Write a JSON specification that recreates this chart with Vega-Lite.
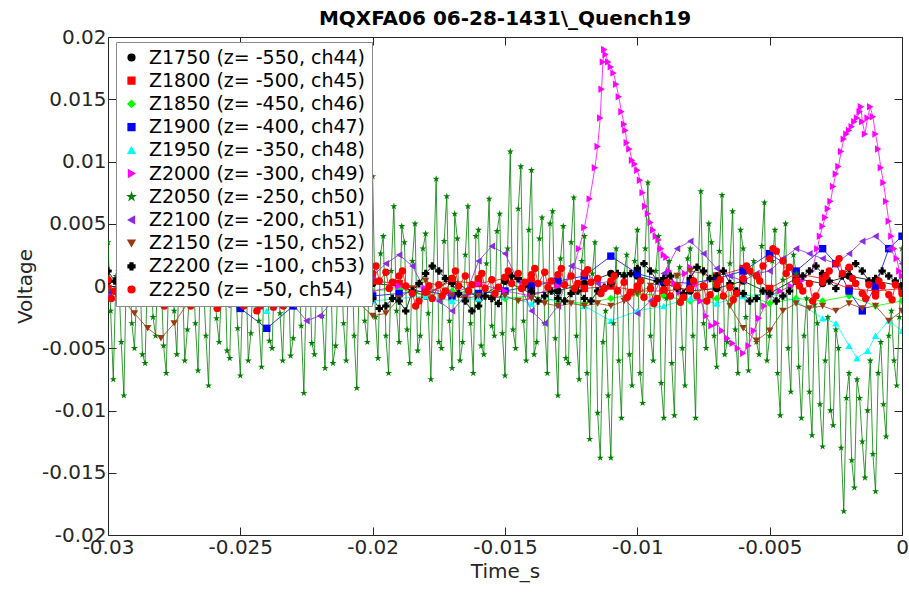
{
"$schema":"https://vega.github.io/schema/vega-lite/v6.json",
"width":794,"height":498,
"autosize":{"type":"none"},
"padding":{"left":108,"top":37,"right":7,"bottom":62},
"background":"white",
"title":{"text":"MQXFA06 06-28-1431\\_Quench19","font":"DejaVu Sans","fontSize":20,"fontWeight":"bold","color":"#000000","anchor":"middle","offset":-2},
"config":{"view":{"stroke":null},"axis":{"labelFont":"DejaVu Sans","labelFontSize":20,"titleFont":"DejaVu Sans","titleFontSize":20,"titleFontWeight":"normal","labelColor":"#262626","titleColor":"#262626","domainColor":"#262626","tickColor":"#262626","grid":false}},
"data":{"values":[
{"k":"a","t":-0.030,"v":0.0004},{"k":"a","t":-0.029,"v":-0.0002},{"k":"a","t":-0.028,"v":-0.0006},{"k":"a","t":-0.027,"v":-0.0004},{"k":"a","t":-0.026,"v":-0.0008},{"k":"a","t":-0.025,"v":-0.0005},{"k":"a","t":-0.024,"v":-0.0006},{"k":"a","t":-0.023,"v":-0.0010},{"k":"a","t":-0.022,"v":-0.0004},{"k":"a","t":-0.021,"v":-0.0002},{"k":"a","t":-0.020,"v":0.0002},{"k":"a","t":-0.019,"v":0.0000},{"k":"a","t":-0.018,"v":-0.0008},{"k":"a","t":-0.017,"v":0.0006},{"k":"a","t":-0.016,"v":-0.0010},{"k":"a","t":-0.015,"v":0.0004},{"k":"a","t":-0.014,"v":-0.0006},{"k":"a","t":-0.013,"v":-0.0004},{"k":"a","t":-0.012,"v":0.0002},{"k":"a","t":-0.011,"v":0.0010},{"k":"a","t":-0.010,"v":0.0008},{"k":"a","t":-0.009,"v":0.0002},{"k":"a","t":-0.008,"v":-0.0004},{"k":"a","t":-0.007,"v":-0.0002},{"k":"a","t":-0.006,"v":0.0004},{"k":"a","t":-0.005,"v":-0.0006},{"k":"a","t":-0.004,"v":0.0006},{"k":"a","t":-0.003,"v":0.0002},{"k":"a","t":-0.002,"v":0.0008},{"k":"a","t":-0.001,"v":0.0004},{"k":"a","t":0.0,"v":0.0000},
{"k":"b","t":-0.030,"v":-0.0002},{"k":"b","t":-0.029,"v":-0.0006},{"k":"b","t":-0.028,"v":-0.0008},{"k":"b","t":-0.027,"v":-0.0010},{"k":"b","t":-0.026,"v":-0.0006},{"k":"b","t":-0.025,"v":-0.0008},{"k":"b","t":-0.024,"v":-0.0012},{"k":"b","t":-0.023,"v":-0.0006},{"k":"b","t":-0.022,"v":-0.0004},{"k":"b","t":-0.021,"v":-0.0002},{"k":"b","t":-0.020,"v":0.0004},{"k":"b","t":-0.019,"v":0.0002},{"k":"b","t":-0.018,"v":-0.0006},{"k":"b","t":-0.017,"v":0.0004},{"k":"b","t":-0.016,"v":0.0002},{"k":"b","t":-0.015,"v":0.0006},{"k":"b","t":-0.014,"v":0.0004},{"k":"b","t":-0.013,"v":0.0002},{"k":"b","t":-0.012,"v":-0.0002},{"k":"b","t":-0.011,"v":0.0000},{"k":"b","t":-0.010,"v":-0.0004},{"k":"b","t":-0.009,"v":-0.0004},{"k":"b","t":-0.008,"v":-0.0002},{"k":"b","t":-0.007,"v":0.0008},{"k":"b","t":-0.006,"v":0.0014},{"k":"b","t":-0.005,"v":-0.0002},{"k":"b","t":-0.004,"v":0.0010},{"k":"b","t":-0.003,"v":0.0006},{"k":"b","t":-0.002,"v":-0.0002},{"k":"b","t":-0.001,"v":-0.0004},{"k":"b","t":0.0,"v":-0.0002},
{"k":"c","t":-0.030,"v":-0.0004},{"k":"c","t":-0.029,"v":-0.0010},{"k":"c","t":-0.028,"v":-0.0008},{"k":"c","t":-0.027,"v":-0.0012},{"k":"c","t":-0.026,"v":-0.0010},{"k":"c","t":-0.025,"v":-0.0008},{"k":"c","t":-0.024,"v":-0.0014},{"k":"c","t":-0.023,"v":-0.0010},{"k":"c","t":-0.022,"v":-0.0006},{"k":"c","t":-0.021,"v":-0.0008},{"k":"c","t":-0.020,"v":-0.0004},{"k":"c","t":-0.019,"v":-0.0002},{"k":"c","t":-0.018,"v":-0.0008},{"k":"c","t":-0.017,"v":-0.0004},{"k":"c","t":-0.016,"v":-0.0006},{"k":"c","t":-0.015,"v":-0.0010},{"k":"c","t":-0.014,"v":-0.0008},{"k":"c","t":-0.013,"v":-0.0012},{"k":"c","t":-0.012,"v":-0.0014},{"k":"c","t":-0.011,"v":-0.0010},{"k":"c","t":-0.010,"v":-0.0006},{"k":"c","t":-0.009,"v":-0.0008},{"k":"c","t":-0.008,"v":-0.0012},{"k":"c","t":-0.007,"v":-0.0010},{"k":"c","t":-0.006,"v":-0.0006},{"k":"c","t":-0.005,"v":-0.0014},{"k":"c","t":-0.004,"v":-0.0010},{"k":"c","t":-0.003,"v":-0.0012},{"k":"c","t":-0.002,"v":-0.0008},{"k":"c","t":-0.001,"v":-0.0016},{"k":"c","t":0.0,"v":-0.0012},
{"k":"d","t":-0.030,"v":-0.0006},{"k":"d","t":-0.029,"v":-0.0008},{"k":"d","t":-0.028,"v":-0.0010},{"k":"d","t":-0.027,"v":-0.0012},{"k":"d","t":-0.026,"v":-0.0010},{"k":"d","t":-0.025,"v":-0.0018},{"k":"d","t":-0.024,"v":-0.0034},{"k":"d","t":-0.023,"v":-0.0016},{"k":"d","t":-0.022,"v":-0.0010},{"k":"d","t":-0.021,"v":-0.0006},{"k":"d","t":-0.020,"v":-0.0008},{"k":"d","t":-0.019,"v":-0.0006},{"k":"d","t":-0.018,"v":-0.0004},{"k":"d","t":-0.017,"v":-0.0008},{"k":"d","t":-0.016,"v":-0.0006},{"k":"d","t":-0.015,"v":-0.0004},{"k":"d","t":-0.014,"v":0.0000},{"k":"d","t":-0.013,"v":0.0004},{"k":"d","t":-0.012,"v":0.0008},{"k":"d","t":-0.011,"v":0.0024},{"k":"d","t":-0.010,"v":0.0010},{"k":"d","t":-0.009,"v":0.0004},{"k":"d","t":-0.008,"v":0.0002},{"k":"d","t":-0.007,"v":0.0006},{"k":"d","t":-0.006,"v":0.0012},{"k":"d","t":-0.005,"v":0.0026},{"k":"d","t":-0.004,"v":0.0012},{"k":"d","t":-0.003,"v":0.0030},{"k":"d","t":-0.0025,"v":0.0018},{"k":"d","t":-0.002,"v":-0.0004},{"k":"d","t":-0.0015,"v":-0.0020},{"k":"d","t":-0.001,"v":0.0000},{"k":"d","t":-0.0005,"v":0.0030},{"k":"d","t":0.0,"v":0.0040},
{"k":"e","t":-0.030,"v":-0.0008},{"k":"e","t":-0.029,"v":-0.0010},{"k":"e","t":-0.028,"v":-0.0006},{"k":"e","t":-0.027,"v":-0.0010},{"k":"e","t":-0.026,"v":-0.0012},{"k":"e","t":-0.025,"v":-0.0014},{"k":"e","t":-0.024,"v":-0.0020},{"k":"e","t":-0.023,"v":-0.0012},{"k":"e","t":-0.022,"v":-0.0008},{"k":"e","t":-0.021,"v":-0.0010},{"k":"e","t":-0.020,"v":-0.0012},{"k":"e","t":-0.019,"v":-0.0010},{"k":"e","t":-0.018,"v":-0.0008},{"k":"e","t":-0.017,"v":-0.0012},{"k":"e","t":-0.016,"v":-0.0010},{"k":"e","t":-0.015,"v":-0.0008},{"k":"e","t":-0.014,"v":-0.0014},{"k":"e","t":-0.013,"v":-0.0010},{"k":"e","t":-0.012,"v":-0.0016},{"k":"e","t":-0.011,"v":-0.0028},{"k":"e","t":-0.010,"v":-0.0020},{"k":"e","t":-0.009,"v":-0.0016},{"k":"e","t":-0.008,"v":-0.0010},{"k":"e","t":-0.007,"v":-0.0014},{"k":"e","t":-0.006,"v":-0.0008},{"k":"e","t":-0.005,"v":-0.0006},{"k":"e","t":-0.004,"v":-0.0012},{"k":"e","t":-0.003,"v":-0.0026},{"k":"e","t":-0.0025,"v":-0.0030},{"k":"e","t":-0.002,"v":-0.0048},{"k":"e","t":-0.0017,"v":-0.0058},{"k":"e","t":-0.0013,"v":-0.0052},{"k":"e","t":-0.001,"v":-0.0040},{"k":"e","t":-0.0005,"v":-0.0028},{"k":"e","t":0.0,"v":-0.0036},
{"k":"f","t":-0.030,"v":-0.0004},{"k":"f","t":-0.029,"v":0.0002},{"k":"f","t":-0.028,"v":-0.0006},{"k":"f","t":-0.027,"v":0.0000},{"k":"f","t":-0.026,"v":-0.0008},{"k":"f","t":-0.025,"v":-0.0004},{"k":"f","t":-0.024,"v":0.0002},{"k":"f","t":-0.023,"v":-0.0006},{"k":"f","t":-0.022,"v":-0.0002},{"k":"f","t":-0.021,"v":0.0002},{"k":"f","t":-0.020,"v":-0.0004},{"k":"f","t":-0.019,"v":0.0000},{"k":"f","t":-0.018,"v":-0.0002},{"k":"f","t":-0.017,"v":-0.0006},{"k":"f","t":-0.016,"v":0.0002},{"k":"f","t":-0.015,"v":-0.0004},{"k":"f","t":-0.014,"v":-0.0008},{"k":"f","t":-0.013,"v":0.0000},{"k":"f","t":-0.0125,"v":0.0008},{"k":"f","t":-0.0122,"v":0.0030},{"k":"f","t":-0.0120,"v":0.0047},{"k":"f","t":-0.0118,"v":0.0070},{"k":"f","t":-0.0116,"v":0.0095},{"k":"f","t":-0.0115,"v":0.0112},{"k":"f","t":-0.0114,"v":0.0135},{"k":"f","t":-0.01135,"v":0.0158},{"k":"f","t":-0.0113,"v":0.0180},{"k":"f","t":-0.01125,"v":0.0190},{"k":"f","t":-0.0112,"v":0.0186},{"k":"f","t":-0.0111,"v":0.0180},{"k":"f","t":-0.0110,"v":0.0176},{"k":"f","t":-0.0109,"v":0.0171},{"k":"f","t":-0.0108,"v":0.0162},{"k":"f","t":-0.0107,"v":0.0152},{"k":"f","t":-0.0106,"v":0.0140},{"k":"f","t":-0.0105,"v":0.0130},{"k":"f","t":-0.01045,"v":0.0125},{"k":"f","t":-0.0104,"v":0.0115},{"k":"f","t":-0.0103,"v":0.0110},{"k":"f","t":-0.0102,"v":0.0101},{"k":"f","t":-0.0101,"v":0.0098},{"k":"f","t":-0.0100,"v":0.0093},{"k":"f","t":-0.0099,"v":0.0085},{"k":"f","t":-0.0098,"v":0.0075},{"k":"f","t":-0.0097,"v":0.0064},{"k":"f","t":-0.0096,"v":0.0058},{"k":"f","t":-0.0095,"v":0.0051},{"k":"f","t":-0.0094,"v":0.0045},{"k":"f","t":-0.0093,"v":0.0040},{"k":"f","t":-0.0092,"v":0.0037},{"k":"f","t":-0.0091,"v":0.0030},{"k":"f","t":-0.0090,"v":0.0025},{"k":"f","t":-0.0089,"v":0.0023},{"k":"f","t":-0.0088,"v":0.0012},{"k":"f","t":-0.0086,"v":0.0002},{"k":"f","t":-0.0084,"v":-0.0005},{"k":"f","t":-0.0082,"v":0.0010},{"k":"f","t":-0.0080,"v":0.0015},{"k":"f","t":-0.0078,"v":0.0002},{"k":"f","t":-0.0076,"v":-0.0012},{"k":"f","t":-0.0074,"v":-0.0024},{"k":"f","t":-0.0072,"v":-0.0032},{"k":"f","t":-0.0070,"v":-0.0030},{"k":"f","t":-0.0068,"v":-0.0036},{"k":"f","t":-0.0066,"v":-0.0042},{"k":"f","t":-0.0064,"v":-0.0046},{"k":"f","t":-0.0062,"v":-0.0050},{"k":"f","t":-0.0060,"v":-0.0054},{"k":"f","t":-0.0058,"v":-0.0048},{"k":"f","t":-0.0056,"v":-0.0036},{"k":"f","t":-0.0054,"v":-0.0026},{"k":"f","t":-0.0052,"v":-0.0016},{"k":"f","t":-0.0050,"v":-0.0008},{"k":"f","t":-0.0046,"v":-0.0004},{"k":"f","t":-0.0042,"v":0.0000},{"k":"f","t":-0.0038,"v":0.0004},{"k":"f","t":-0.0034,"v":0.0012},{"k":"f","t":-0.0032,"v":0.0030},{"k":"f","t":-0.0031,"v":0.0040},{"k":"f","t":-0.0030,"v":0.0048},{"k":"f","t":-0.0029,"v":0.0055},{"k":"f","t":-0.0028,"v":0.0062},{"k":"f","t":-0.0027,"v":0.0068},{"k":"f","t":-0.0026,"v":0.0080},{"k":"f","t":-0.0025,"v":0.0090},{"k":"f","t":-0.0024,"v":0.0096},{"k":"f","t":-0.0023,"v":0.0108},{"k":"f","t":-0.0022,"v":0.0118},{"k":"f","t":-0.0021,"v":0.0122},{"k":"f","t":-0.0020,"v":0.0125},{"k":"f","t":-0.0019,"v":0.0128},{"k":"f","t":-0.0018,"v":0.0132},{"k":"f","t":-0.0017,"v":0.0135},{"k":"f","t":-0.0016,"v":0.0140},{"k":"f","t":-0.00155,"v":0.0144},{"k":"f","t":-0.0015,"v":0.0132},{"k":"f","t":-0.0014,"v":0.0122},{"k":"f","t":-0.0013,"v":0.0135},{"k":"f","t":-0.0012,"v":0.0144},{"k":"f","t":-0.0011,"v":0.0136},{"k":"f","t":-0.0010,"v":0.0122},{"k":"f","t":-0.0009,"v":0.0110},{"k":"f","t":-0.0008,"v":0.0095},{"k":"f","t":-0.0007,"v":0.0083},{"k":"f","t":-0.0006,"v":0.0068},{"k":"f","t":-0.0005,"v":0.0052},{"k":"f","t":-0.0004,"v":0.0040},{"k":"f","t":-0.0003,"v":0.0030},{"k":"f","t":-0.0002,"v":0.0022},{"k":"f","t":-0.0001,"v":0.0012},{"k":"f","t":0.0,"v":0.0008},
{"k":"g","t":-0.0300,"v":0.0035},{"k":"g","t":-0.0298,"v":-0.0075},{"k":"g","t":-0.0296,"v":0.0012},{"k":"g","t":-0.0294,"v":-0.0088},{"k":"g","t":-0.0292,"v":0.0025},{"k":"g","t":-0.0290,"v":-0.0050},{"k":"g","t":-0.0288,"v":0.0018},{"k":"g","t":-0.0286,"v":-0.0062},{"k":"g","t":-0.0284,"v":0.0030},{"k":"g","t":-0.0282,"v":-0.0040},{"k":"g","t":-0.0280,"v":0.0008},{"k":"g","t":-0.0278,"v":-0.0070},{"k":"g","t":-0.0276,"v":0.0022},{"k":"g","t":-0.0274,"v":-0.0055},{"k":"g","t":-0.0272,"v":0.0015},{"k":"g","t":-0.0270,"v":-0.0035},{"k":"g","t":-0.0268,"v":0.0028},{"k":"g","t":-0.0266,"v":-0.0068},{"k":"g","t":-0.0264,"v":0.0005},{"k":"g","t":-0.0262,"v":-0.0080},{"k":"g","t":-0.0260,"v":0.0020},{"k":"g","t":-0.0258,"v":-0.0045},{"k":"g","t":-0.0256,"v":0.0032},{"k":"g","t":-0.0254,"v":-0.0058},{"k":"g","t":-0.0252,"v":0.0010},{"k":"g","t":-0.0250,"v":-0.0072},{"k":"g","t":-0.0248,"v":0.0026},{"k":"g","t":-0.0246,"v":-0.0038},{"k":"g","t":-0.0244,"v":0.0014},{"k":"g","t":-0.0242,"v":-0.0065},{"k":"g","t":-0.0240,"v":0.0030},{"k":"g","t":-0.0238,"v":-0.0050},{"k":"g","t":-0.0236,"v":0.0008},{"k":"g","t":-0.0234,"v":-0.0060},{"k":"g","t":-0.0232,"v":0.0024},{"k":"g","t":-0.0230,"v":-0.0042},{"k":"g","t":-0.0228,"v":0.0016},{"k":"g","t":-0.0226,"v":-0.0086},{"k":"g","t":-0.0224,"v":0.0028},{"k":"g","t":-0.0222,"v":-0.0055},{"k":"g","t":-0.0220,"v":0.0012},{"k":"g","t":-0.0218,"v":-0.0066},{"k":"g","t":-0.0216,"v":0.0030},{"k":"g","t":-0.0214,"v":-0.0048},{"k":"g","t":-0.0212,"v":0.0020},{"k":"g","t":-0.0210,"v":-0.0060},{"k":"g","t":-0.0208,"v":0.0035},{"k":"g","t":-0.0206,"v":-0.0082},{"k":"g","t":-0.0204,"v":0.0025},{"k":"g","t":-0.0202,"v":-0.0045},
{"k":"g","t":-0.0200,"v":0.0088},{"k":"g","t":-0.0198,"v":-0.0058},{"k":"g","t":-0.0196,"v":0.0040},{"k":"g","t":-0.0194,"v":-0.0070},{"k":"g","t":-0.0192,"v":0.0064},{"k":"g","t":-0.0190,"v":-0.0045},{"k":"g","t":-0.0188,"v":0.0035},{"k":"g","t":-0.0186,"v":-0.0062},{"k":"g","t":-0.0184,"v":0.0050},{"k":"g","t":-0.0182,"v":-0.0040},{"k":"g","t":-0.0180,"v":0.0042},{"k":"g","t":-0.0178,"v":-0.0075},{"k":"g","t":-0.0176,"v":0.0086},{"k":"g","t":-0.0174,"v":-0.0050},{"k":"g","t":-0.0172,"v":0.0072},{"k":"g","t":-0.0170,"v":-0.0066},{"k":"g","t":-0.0168,"v":0.0038},{"k":"g","t":-0.0166,"v":-0.0045},{"k":"g","t":-0.0164,"v":0.0064},{"k":"g","t":-0.0162,"v":-0.0070},{"k":"g","t":-0.0160,"v":0.0045},{"k":"g","t":-0.0158,"v":-0.0055},{"k":"g","t":-0.0156,"v":0.0070},{"k":"g","t":-0.0154,"v":-0.0040},{"k":"g","t":-0.0152,"v":0.0058},
{"k":"g","t":-0.0150,"v":-0.0072},{"k":"g","t":-0.0148,"v":0.0108},{"k":"g","t":-0.0146,"v":-0.0050},{"k":"g","t":-0.0144,"v":0.0096},{"k":"g","t":-0.0142,"v":-0.0060},{"k":"g","t":-0.0140,"v":0.0093},{"k":"g","t":-0.0138,"v":-0.0045},{"k":"g","t":-0.0136,"v":0.0055},{"k":"g","t":-0.0134,"v":-0.0070},{"k":"g","t":-0.0132,"v":0.0060},{"k":"g","t":-0.0130,"v":-0.0088},{"k":"g","t":-0.0128,"v":0.0048},{"k":"g","t":-0.0126,"v":-0.0062},{"k":"g","t":-0.0124,"v":0.0071},{"k":"g","t":-0.0122,"v":-0.0075},{"k":"g","t":-0.0120,"v":0.0040},{"k":"g","t":-0.0118,"v":-0.0123},{"k":"g","t":-0.0116,"v":0.0035},{"k":"g","t":-0.0114,"v":-0.0138},{"k":"g","t":-0.0112,"v":-0.0020},{"k":"g","t":-0.0110,"v":-0.0138},{"k":"g","t":-0.0108,"v":0.0030},
{"k":"g","t":-0.0106,"v":-0.0106},{"k":"g","t":-0.0104,"v":0.0025},{"k":"g","t":-0.0102,"v":-0.0080},{"k":"g","t":-0.0100,"v":0.0045},{"k":"g","t":-0.0098,"v":-0.0094},{"k":"g","t":-0.0096,"v":0.0083},{"k":"g","t":-0.0094,"v":-0.0060},{"k":"g","t":-0.0092,"v":0.0040},{"k":"g","t":-0.0090,"v":-0.0106},{"k":"g","t":-0.0088,"v":0.0020},{"k":"g","t":-0.0086,"v":-0.0104},{"k":"g","t":-0.0084,"v":0.0015},{"k":"g","t":-0.0082,"v":-0.0080},{"k":"g","t":-0.0080,"v":0.0030},{"k":"g","t":-0.0078,"v":-0.0106},
{"k":"g","t":-0.0076,"v":0.0076},{"k":"g","t":-0.0074,"v":-0.0050},{"k":"g","t":-0.0072,"v":0.0035},{"k":"g","t":-0.0070,"v":-0.0065},{"k":"g","t":-0.0068,"v":0.0073},{"k":"g","t":-0.0066,"v":-0.0045},{"k":"g","t":-0.0064,"v":0.0060},{"k":"g","t":-0.0062,"v":-0.0070},{"k":"g","t":-0.0060,"v":0.0030},{"k":"g","t":-0.0058,"v":-0.0068},{"k":"g","t":-0.0056,"v":0.0020},{"k":"g","t":-0.0054,"v":-0.0055},{"k":"g","t":-0.0052,"v":0.0067},{"k":"g","t":-0.0050,"v":-0.0040},{"k":"g","t":-0.0048,"v":0.0045},{"k":"g","t":-0.0046,"v":-0.0104},{"k":"g","t":-0.0044,"v":0.0050},{"k":"g","t":-0.0042,"v":-0.0085},{"k":"g","t":-0.0040,"v":0.0010},
{"k":"g","t":-0.0038,"v":-0.0106},{"k":"g","t":-0.0036,"v":-0.0010},{"k":"g","t":-0.0034,"v":-0.0120},{"k":"g","t":-0.0032,"v":-0.0030},{"k":"g","t":-0.0030,"v":-0.0129},{"k":"g","t":-0.0028,"v":-0.0025},{"k":"g","t":-0.0026,"v":-0.0112},{"k":"g","t":-0.0024,"v":-0.0050},{"k":"g","t":-0.0022,"v":-0.0181},{"k":"g","t":-0.0020,"v":-0.0070},{"k":"g","t":-0.0018,"v":-0.0162},{"k":"g","t":-0.0016,"v":-0.0090},{"k":"g","t":-0.0014,"v":-0.0154},{"k":"g","t":-0.0012,"v":-0.0060},{"k":"g","t":-0.0010,"v":-0.0165},{"k":"g","t":-0.0008,"v":-0.0045},{"k":"g","t":-0.0006,"v":-0.0121},{"k":"g","t":-0.0004,"v":-0.0020},{"k":"g","t":-0.0002,"v":-0.0080},{"k":"g","t":0.0,"v":0.0030},
{"k":"g","t":-0.0299,"v":-0.0020},{"k":"g","t":-0.0297,"v":0.0008},{"k":"g","t":-0.0295,"v":-0.0045},{"k":"g","t":-0.0293,"v":0.0020},{"k":"g","t":-0.0291,"v":-0.0030},{"k":"g","t":-0.0289,"v":0.0005},{"k":"g","t":-0.0287,"v":-0.0055},{"k":"g","t":-0.0285,"v":0.0015},{"k":"g","t":-0.0283,"v":-0.0025},{"k":"g","t":-0.0281,"v":0.0028},{"k":"g","t":-0.0279,"v":-0.0048},{"k":"g","t":-0.0277,"v":0.0010},{"k":"g","t":-0.0275,"v":-0.0020},{"k":"g","t":-0.0273,"v":0.0024},{"k":"g","t":-0.0271,"v":-0.0060},{"k":"g","t":-0.0269,"v":0.0006},{"k":"g","t":-0.0267,"v":-0.0030},{"k":"g","t":-0.0265,"v":0.0018},{"k":"g","t":-0.0263,"v":-0.0040},{"k":"g","t":-0.0261,"v":0.0012},{"k":"g","t":-0.0259,"v":-0.0026},{"k":"g","t":-0.0257,"v":0.0002},{"k":"g","t":-0.0255,"v":-0.0052},{"k":"g","t":-0.0253,"v":0.0020},{"k":"g","t":-0.0251,"v":-0.0034},{"k":"g","t":-0.0249,"v":0.0008},{"k":"g","t":-0.0247,"v":-0.0060},{"k":"g","t":-0.0245,"v":0.0022},{"k":"g","t":-0.0243,"v":-0.0028},{"k":"g","t":-0.0241,"v":0.0004},{"k":"g","t":-0.0239,"v":-0.0044},{"k":"g","t":-0.0237,"v":0.0018},{"k":"g","t":-0.0235,"v":-0.0022},{"k":"g","t":-0.0233,"v":0.0010},{"k":"g","t":-0.0231,"v":-0.0056},{"k":"g","t":-0.0229,"v":0.0026},{"k":"g","t":-0.0227,"v":-0.0032},{"k":"g","t":-0.0225,"v":0.0006},{"k":"g","t":-0.0223,"v":-0.0046},{"k":"g","t":-0.0221,"v":0.0020},{"k":"g","t":-0.0219,"v":-0.0024},{"k":"g","t":-0.0217,"v":0.0014},{"k":"g","t":-0.0215,"v":-0.0062},{"k":"g","t":-0.0213,"v":0.0008},{"k":"g","t":-0.0211,"v":-0.0030},{"k":"g","t":-0.0209,"v":0.0022},{"k":"g","t":-0.0207,"v":-0.0040},{"k":"g","t":-0.0205,"v":0.0012},{"k":"g","t":-0.0203,"v":-0.0028},{"k":"g","t":-0.0201,"v":0.0030},
{"k":"g","t":-0.0199,"v":-0.0025},{"k":"g","t":-0.0197,"v":0.0026},{"k":"g","t":-0.0195,"v":-0.0040},{"k":"g","t":-0.0193,"v":0.0012},{"k":"g","t":-0.0191,"v":-0.0020},{"k":"g","t":-0.0189,"v":0.0048},{"k":"g","t":-0.0187,"v":-0.0035},{"k":"g","t":-0.0185,"v":0.0020},{"k":"g","t":-0.0183,"v":-0.0052},{"k":"g","t":-0.0181,"v":0.0030},{"k":"g","t":-0.0179,"v":-0.0022},{"k":"g","t":-0.0177,"v":0.0015},{"k":"g","t":-0.0175,"v":-0.0045},{"k":"g","t":-0.0173,"v":0.0036},{"k":"g","t":-0.0171,"v":-0.0028},{"k":"g","t":-0.0169,"v":0.0058},{"k":"g","t":-0.0167,"v":-0.0060},{"k":"g","t":-0.0165,"v":0.0025},{"k":"g","t":-0.0163,"v":-0.0030},{"k":"g","t":-0.0161,"v":0.0040},{"k":"g","t":-0.0159,"v":-0.0048},{"k":"g","t":-0.0157,"v":0.0018},{"k":"g","t":-0.0155,"v":-0.0032},{"k":"g","t":-0.0153,"v":0.0044},{"k":"g","t":-0.0151,"v":-0.0038},
{"k":"g","t":-0.0149,"v":0.0030},{"k":"g","t":-0.0147,"v":-0.0035},{"k":"g","t":-0.0145,"v":0.0062},{"k":"g","t":-0.0143,"v":-0.0028},{"k":"g","t":-0.0141,"v":0.0045},{"k":"g","t":-0.0139,"v":-0.0055},{"k":"g","t":-0.0137,"v":0.0038},{"k":"g","t":-0.0135,"v":-0.0030},{"k":"g","t":-0.0133,"v":0.0050},{"k":"g","t":-0.0131,"v":-0.0042},{"k":"g","t":-0.0129,"v":0.0022},{"k":"g","t":-0.0127,"v":-0.0058},{"k":"g","t":-0.0125,"v":0.0035},{"k":"g","t":-0.0123,"v":-0.0040},{"k":"g","t":-0.0121,"v":0.0020},{"k":"g","t":-0.0119,"v":-0.0070},{"k":"g","t":-0.0117,"v":0.0010},{"k":"g","t":-0.0115,"v":-0.0102},{"k":"g","t":-0.0113,"v":-0.0045},{"k":"g","t":-0.0111,"v":-0.0088},{"k":"g","t":-0.0109,"v":-0.0030},{"k":"g","t":-0.0107,"v":-0.0060},
{"k":"g","t":-0.0105,"v":0.0010},{"k":"g","t":-0.0103,"v":-0.0055},{"k":"g","t":-0.0101,"v":0.0020},{"k":"g","t":-0.0099,"v":-0.0070},{"k":"g","t":-0.0097,"v":0.0030},{"k":"g","t":-0.0095,"v":-0.0040},{"k":"g","t":-0.0093,"v":0.0012},{"k":"g","t":-0.0091,"v":-0.0078},{"k":"g","t":-0.0089,"v":-0.0010},{"k":"g","t":-0.0087,"v":-0.0062},{"k":"g","t":-0.0085,"v":0.0008},{"k":"g","t":-0.0083,"v":-0.0050},{"k":"g","t":-0.0081,"v":0.0022},{"k":"g","t":-0.0079,"v":-0.0040},{"k":"g","t":-0.0077,"v":0.0015},
{"k":"g","t":-0.0075,"v":-0.0030},{"k":"g","t":-0.0073,"v":0.0050},{"k":"g","t":-0.0071,"v":-0.0040},{"k":"g","t":-0.0069,"v":0.0028},{"k":"g","t":-0.0067,"v":-0.0055},{"k":"g","t":-0.0065,"v":0.0018},{"k":"g","t":-0.0063,"v":-0.0035},{"k":"g","t":-0.0061,"v":0.0045},{"k":"g","t":-0.0059,"v":-0.0025},{"k":"g","t":-0.0057,"v":0.0010},{"k":"g","t":-0.0055,"v":-0.0045},{"k":"g","t":-0.0053,"v":0.0032},{"k":"g","t":-0.0051,"v":-0.0060},{"k":"g","t":-0.0049,"v":0.0020},{"k":"g","t":-0.0047,"v":-0.0070},{"k":"g","t":-0.0045,"v":0.0005},{"k":"g","t":-0.0043,"v":-0.0050},{"k":"g","t":-0.0041,"v":0.0025},{"k":"g","t":-0.0039,"v":-0.0065},
{"k":"g","t":-0.0037,"v":-0.0040},{"k":"g","t":-0.0035,"v":-0.0085},{"k":"g","t":-0.0033,"v":-0.0015},{"k":"g","t":-0.0031,"v":-0.0095},{"k":"g","t":-0.0029,"v":-0.0060},{"k":"g","t":-0.0027,"v":-0.0100},{"k":"g","t":-0.0025,"v":-0.0035},{"k":"g","t":-0.0023,"v":-0.0130},{"k":"g","t":-0.0021,"v":-0.0090},{"k":"g","t":-0.0019,"v":-0.0140},{"k":"g","t":-0.0017,"v":-0.0075},{"k":"g","t":-0.0015,"v":-0.0125},{"k":"g","t":-0.0013,"v":-0.0100},{"k":"g","t":-0.0011,"v":-0.0135},{"k":"g","t":-0.0009,"v":-0.0070},{"k":"g","t":-0.0007,"v":-0.0095},{"k":"g","t":-0.0005,"v":-0.0040},{"k":"g","t":-0.0003,"v":-0.0060},{"k":"g","t":-0.0001,"v":-0.0025},
{"k":"h","t":-0.0300,"v":-0.0008},{"k":"h","t":-0.0295,"v":-0.0014},{"k":"h","t":-0.0290,"v":-0.0006},{"k":"h","t":-0.0285,"v":0.0002},{"k":"h","t":-0.0280,"v":-0.0003},{"k":"h","t":-0.0275,"v":0.0000},{"k":"h","t":-0.0270,"v":-0.0004},{"k":"h","t":-0.0265,"v":-0.0002},{"k":"h","t":-0.0260,"v":-0.0008},{"k":"h","t":-0.0255,"v":-0.0015},{"k":"h","t":-0.0250,"v":-0.0012},{"k":"h","t":-0.0245,"v":-0.0004},{"k":"h","t":-0.0240,"v":0.0000},{"k":"h","t":-0.0235,"v":-0.0006},{"k":"h","t":-0.0230,"v":-0.0015},{"k":"h","t":-0.0225,"v":-0.0028},{"k":"h","t":-0.0220,"v":-0.0024},{"k":"h","t":-0.0215,"v":-0.0012},{"k":"h","t":-0.0210,"v":-0.0003},{"k":"h","t":-0.0205,"v":0.0004},{"k":"h","t":-0.0200,"v":0.0008},{"k":"h","t":-0.0195,"v":0.0018},{"k":"h","t":-0.0190,"v":0.0025},{"k":"h","t":-0.0185,"v":0.0016},{"k":"h","t":-0.0180,"v":-0.0004},{"k":"h","t":-0.0175,"v":-0.0012},{"k":"h","t":-0.0170,"v":-0.0020},{"k":"h","t":-0.0165,"v":-0.0008},{"k":"h","t":-0.0160,"v":0.0020},{"k":"h","t":-0.0155,"v":0.0032},{"k":"h","t":-0.0150,"v":0.0026},{"k":"h","t":-0.0145,"v":0.0004},{"k":"h","t":-0.0140,"v":-0.0020},{"k":"h","t":-0.0135,"v":-0.0030},{"k":"h","t":-0.0130,"v":-0.0016},{"k":"h","t":-0.0125,"v":0.0016},{"k":"h","t":-0.0120,"v":0.0012},{"k":"h","t":-0.0115,"v":0.0002},{"k":"h","t":-0.0110,"v":0.0004},{"k":"h","t":-0.0105,"v":-0.0010},{"k":"h","t":-0.0100,"v":-0.0022},{"k":"h","t":-0.0095,"v":-0.0012},{"k":"h","t":-0.0090,"v":0.0010},{"k":"h","t":-0.0085,"v":0.0030},{"k":"h","t":-0.0080,"v":0.0036},{"k":"h","t":-0.0075,"v":0.0026},{"k":"h","t":-0.0070,"v":0.0014},{"k":"h","t":-0.0065,"v":0.0008},{"k":"h","t":-0.0060,"v":0.0004},{"k":"h","t":-0.0055,"v":0.0010},{"k":"h","t":-0.0050,"v":0.0012},{"k":"h","t":-0.0045,"v":0.0022},{"k":"h","t":-0.0040,"v":0.0030},{"k":"h","t":-0.0035,"v":0.0026},{"k":"h","t":-0.0030,"v":0.0022},{"k":"h","t":-0.0025,"v":0.0018},{"k":"h","t":-0.0020,"v":0.0026},{"k":"h","t":-0.0015,"v":0.0036},{"k":"h","t":-0.0010,"v":0.0040},{"k":"h","t":-0.0005,"v":0.0030},{"k":"h","t":0.0,"v":0.0018},
{"k":"i","t":-0.0300,"v":-0.0004},{"k":"i","t":-0.0295,"v":-0.0010},{"k":"i","t":-0.0290,"v":-0.0022},{"k":"i","t":-0.0285,"v":-0.0034},{"k":"i","t":-0.0280,"v":-0.0042},{"k":"i","t":-0.0275,"v":-0.0030},{"k":"i","t":-0.0270,"v":-0.0014},{"k":"i","t":-0.0265,"v":-0.0008},{"k":"i","t":-0.0260,"v":-0.0010},{"k":"i","t":-0.0255,"v":-0.0014},{"k":"i","t":-0.0250,"v":-0.0010},{"k":"i","t":-0.0245,"v":-0.0008},{"k":"i","t":-0.0240,"v":-0.0010},{"k":"i","t":-0.0235,"v":-0.0012},{"k":"i","t":-0.0230,"v":-0.0010},{"k":"i","t":-0.0225,"v":-0.0008},{"k":"i","t":-0.0220,"v":-0.0010},{"k":"i","t":-0.0215,"v":-0.0008},{"k":"i","t":-0.0210,"v":-0.0010},{"k":"i","t":-0.0205,"v":-0.0014},{"k":"i","t":-0.0200,"v":-0.0024},{"k":"i","t":-0.0195,"v":-0.0022},{"k":"i","t":-0.0190,"v":-0.0010},{"k":"i","t":-0.0185,"v":-0.0002},{"k":"i","t":-0.0180,"v":0.0004},{"k":"i","t":-0.0175,"v":0.0000},{"k":"i","t":-0.0170,"v":-0.0008},{"k":"i","t":-0.0165,"v":-0.0010},{"k":"i","t":-0.0160,"v":-0.0008},{"k":"i","t":-0.0155,"v":-0.0010},{"k":"i","t":-0.0150,"v":-0.0008},{"k":"i","t":-0.0145,"v":-0.0012},{"k":"i","t":-0.0140,"v":-0.0010},{"k":"i","t":-0.0135,"v":-0.0014},{"k":"i","t":-0.0130,"v":-0.0016},{"k":"i","t":-0.0125,"v":-0.0014},{"k":"i","t":-0.0120,"v":-0.0016},{"k":"i","t":-0.0115,"v":-0.0014},{"k":"i","t":-0.0110,"v":-0.0016},{"k":"i","t":-0.0105,"v":-0.0012},{"k":"i","t":-0.0100,"v":-0.0006},{"k":"i","t":-0.0095,"v":0.0000},{"k":"i","t":-0.0090,"v":0.0004},{"k":"i","t":-0.0085,"v":0.0008},{"k":"i","t":-0.0080,"v":0.0012},{"k":"i","t":-0.0075,"v":0.0010},{"k":"i","t":-0.0070,"v":0.0002},{"k":"i","t":-0.0065,"v":-0.0016},{"k":"i","t":-0.0060,"v":-0.0034},{"k":"i","t":-0.0055,"v":-0.0044},{"k":"i","t":-0.0050,"v":-0.0036},{"k":"i","t":-0.0045,"v":-0.0020},{"k":"i","t":-0.0040,"v":-0.0014},{"k":"i","t":-0.0035,"v":-0.0018},{"k":"i","t":-0.0030,"v":-0.0016},{"k":"i","t":-0.0025,"v":-0.0020},{"k":"i","t":-0.0020,"v":-0.0014},{"k":"i","t":-0.0015,"v":-0.0018},{"k":"i","t":-0.0010,"v":-0.0016},{"k":"i","t":-0.0005,"v":-0.0028},{"k":"i","t":0.0,"v":-0.0020},
{"k":"j","t":-0.0300,"v":0.0012},{"k":"j","t":-0.0295,"v":0.0005},{"k":"j","t":-0.0290,"v":-0.0003},{"k":"j","t":-0.0285,"v":-0.0006},{"k":"j","t":-0.0280,"v":-0.0008},{"k":"j","t":-0.0275,"v":-0.0005},{"k":"j","t":-0.0270,"v":-0.0008},{"k":"j","t":-0.0265,"v":-0.0006},{"k":"j","t":-0.0260,"v":-0.0009},{"k":"j","t":-0.0255,"v":-0.0007},{"k":"j","t":-0.0250,"v":-0.0010},{"k":"j","t":-0.0245,"v":-0.0008},{"k":"j","t":-0.0240,"v":-0.0006},{"k":"j","t":-0.0235,"v":-0.0009},{"k":"j","t":-0.0230,"v":-0.0005},{"k":"j","t":-0.0225,"v":-0.0004},{"k":"j","t":-0.0220,"v":-0.0006},{"k":"j","t":-0.0215,"v":-0.0003},{"k":"j","t":-0.0210,"v":-0.0004},{"k":"j","t":-0.0205,"v":-0.0006},{"k":"j","t":-0.0200,"v":-0.0010},{"k":"j","t":-0.0195,"v":-0.0016},{"k":"j","t":-0.0190,"v":-0.0012},{"k":"j","t":-0.0185,"v":-0.0004},{"k":"j","t":-0.0180,"v":0.0010},{"k":"j","t":-0.0175,"v":0.0012},{"k":"j","t":-0.0170,"v":0.0002},{"k":"j","t":-0.0165,"v":-0.0012},{"k":"j","t":-0.0160,"v":-0.0016},{"k":"j","t":-0.0155,"v":-0.0010},{"k":"j","t":-0.0150,"v":0.0004},{"k":"j","t":-0.0145,"v":0.0006},{"k":"j","t":-0.0140,"v":-0.0004},{"k":"j","t":-0.0135,"v":-0.0008},{"k":"j","t":-0.0130,"v":-0.0010},{"k":"j","t":-0.0125,"v":-0.0006},{"k":"j","t":-0.0120,"v":-0.0010},{"k":"j","t":-0.0115,"v":-0.0004},{"k":"j","t":-0.0110,"v":0.0002},{"k":"j","t":-0.0105,"v":0.0008},{"k":"j","t":-0.0100,"v":0.0014},{"k":"j","t":-0.0095,"v":0.0012},{"k":"j","t":-0.0090,"v":0.0006},{"k":"j","t":-0.0085,"v":-0.0002},{"k":"j","t":-0.0080,"v":0.0006},{"k":"j","t":-0.0075,"v":0.0012},{"k":"j","t":-0.0070,"v":0.0008},{"k":"j","t":-0.0065,"v":0.0002},{"k":"j","t":-0.0060,"v":-0.0006},{"k":"j","t":-0.0055,"v":-0.0010},{"k":"j","t":-0.0050,"v":-0.0006},{"k":"j","t":-0.0045,"v":-0.0008},{"k":"j","t":-0.0040,"v":0.0004},{"k":"j","t":-0.0035,"v":0.0012},{"k":"j","t":-0.0030,"v":0.0010},{"k":"j","t":-0.0025,"v":-0.0002},{"k":"j","t":-0.0020,"v":0.0014},{"k":"j","t":-0.0015,"v":0.0012},{"k":"j","t":-0.0010,"v":0.0006},{"k":"j","t":-0.0005,"v":0.0008},{"k":"j","t":0.0,"v":0.0000},
{"k":"j","t":-0.02975,"v":0.0004},{"k":"j","t":-0.02925,"v":0.0010},{"k":"j","t":-0.02875,"v":-0.0010},{"k":"j","t":-0.02825,"v":-0.0002},{"k":"j","t":-0.02775,"v":-0.0012},{"k":"j","t":-0.02725,"v":-0.0002},{"k":"j","t":-0.02675,"v":-0.0011},{"k":"j","t":-0.02625,"v":-0.0004},{"k":"j","t":-0.02575,"v":-0.0012},{"k":"j","t":-0.02525,"v":-0.0005},{"k":"j","t":-0.02475,"v":-0.0013},{"k":"j","t":-0.02425,"v":-0.0004},{"k":"j","t":-0.02375,"v":-0.0011},{"k":"j","t":-0.02325,"v":-0.0003},{"k":"j","t":-0.02275,"v":-0.0008},{"k":"j","t":-0.02225,"v":-0.0001},{"k":"j","t":-0.02175,"v":-0.0008},{"k":"j","t":-0.02125,"v":0.0000},{"k":"j","t":-0.02075,"v":-0.0008},{"k":"j","t":-0.02025,"v":-0.0003},{"k":"j","t":-0.01975,"v":-0.0018},{"k":"j","t":-0.01925,"v":-0.0010},{"k":"j","t":-0.01875,"v":-0.0020},{"k":"j","t":-0.01825,"v":0.0002},{"k":"j","t":-0.01775,"v":0.0016},{"k":"j","t":-0.01725,"v":0.0006},{"k":"j","t":-0.01675,"v":-0.0006},{"k":"j","t":-0.01625,"v":-0.0020},{"k":"j","t":-0.01575,"v":-0.0008},{"k":"j","t":-0.01525,"v":-0.0014},{"k":"j","t":-0.01475,"v":0.0008},{"k":"j","t":-0.01425,"v":0.0000},{"k":"j","t":-0.01375,"v":-0.0012},{"k":"j","t":-0.01325,"v":-0.0004},{"k":"j","t":-0.01275,"v":-0.0012},{"k":"j","t":-0.01225,"v":-0.0004},{"k":"j","t":-0.01175,"v":-0.0012},{"k":"j","t":-0.01125,"v":-0.0001},{"k":"j","t":-0.01075,"v":0.0010},{"k":"j","t":-0.01025,"v":0.0010},{"k":"j","t":-0.00975,"v":0.0018},{"k":"j","t":-0.00925,"v":0.0004},{"k":"j","t":-0.00875,"v":0.0008},{"k":"j","t":-0.00825,"v":-0.0006},{"k":"j","t":-0.00775,"v":0.0015},{"k":"j","t":-0.00725,"v":0.0006},{"k":"j","t":-0.00675,"v":0.0012},{"k":"j","t":-0.00625,"v":-0.0004},{"k":"j","t":-0.00575,"v":-0.0012},{"k":"j","t":-0.00525,"v":-0.0004},{"k":"j","t":-0.00475,"v":-0.0012},{"k":"j","t":-0.00425,"v":-0.0004},{"k":"j","t":-0.00375,"v":0.0008},{"k":"j","t":-0.00325,"v":0.0016},{"k":"j","t":-0.00275,"v":0.0004},{"k":"j","t":-0.00225,"v":0.0008},{"k":"j","t":-0.00175,"v":0.0018},{"k":"j","t":-0.00125,"v":0.0004},{"k":"j","t":-0.00075,"v":0.0012},{"k":"j","t":-0.00025,"v":0.0004},
{"k":"k","t":-0.03,"v":0.0005},{"k":"k","t":-0.02975,"v":-0.0004},{"k":"k","t":-0.0295,"v":0.0002},{"k":"k","t":-0.02925,"v":-0.0008},{"k":"k","t":-0.029,"v":0.0000},{"k":"k","t":-0.02875,"v":-0.0006},{"k":"k","t":-0.0285,"v":0.0001},{"k":"k","t":-0.02825,"v":-0.0009},{"k":"k","t":-0.028,"v":-0.0003},{"k":"k","t":-0.02775,"v":-0.0012},{"k":"k","t":-0.0275,"v":-0.0006},{"k":"k","t":-0.02725,"v":-0.0014},{"k":"k","t":-0.027,"v":-0.0007},{"k":"k","t":-0.02675,"v":-0.0013},{"k":"k","t":-0.0265,"v":-0.0005},{"k":"k","t":-0.02625,"v":-0.0011},{"k":"k","t":-0.026,"v":-0.0006},{"k":"k","t":-0.02575,"v":-0.0014},{"k":"k","t":-0.0255,"v":-0.0004},{"k":"k","t":-0.02525,"v":-0.0010},{"k":"k","t":-0.025,"v":-0.0005},{"k":"k","t":-0.02475,"v":-0.0012},{"k":"k","t":-0.0245,"v":-0.0008},{"k":"k","t":-0.02425,"v":-0.0016},{"k":"k","t":-0.024,"v":-0.0010},{"k":"k","t":-0.02375,"v":-0.0017},{"k":"k","t":-0.0235,"v":-0.0009},{"k":"k","t":-0.02325,"v":-0.0012},{"k":"k","t":-0.023,"v":-0.0004},{"k":"k","t":-0.02275,"v":-0.0009},{"k":"k","t":-0.0225,"v":-0.0002},{"k":"k","t":-0.02225,"v":-0.0008},{"k":"k","t":-0.022,"v":-0.0003},{"k":"k","t":-0.02175,"v":-0.0007},{"k":"k","t":-0.0215,"v":0.0000},{"k":"k","t":-0.02125,"v":-0.0005},{"k":"k","t":-0.021,"v":0.0002},{"k":"k","t":-0.02075,"v":-0.0003},{"k":"k","t":-0.0205,"v":0.0006},{"k":"k","t":-0.02025,"v":0.0001},{"k":"k","t":-0.02,"v":0.0010},{"k":"k","t":-0.01975,"v":0.0004},{"k":"k","t":-0.0195,"v":0.0011},{"k":"k","t":-0.01925,"v":0.0003},{"k":"k","t":-0.019,"v":0.0008},{"k":"k","t":-0.01875,"v":0.0000},{"k":"k","t":-0.0185,"v":-0.0006},{"k":"k","t":-0.01825,"v":-0.0012},{"k":"k","t":-0.018,"v":-0.0005},{"k":"k","t":-0.01775,"v":-0.0010},{"k":"k","t":-0.0175,"v":0.0001},{"k":"k","t":-0.01725,"v":-0.0004},{"k":"k","t":-0.017,"v":0.0006},{"k":"k","t":-0.01675,"v":0.0000},{"k":"k","t":-0.0165,"v":0.0008},{"k":"k","t":-0.01625,"v":0.0001},{"k":"k","t":-0.016,"v":0.0006},{"k":"k","t":-0.01575,"v":-0.0002},{"k":"k","t":-0.0155,"v":0.0005},{"k":"k","t":-0.01525,"v":-0.0001},{"k":"k","t":-0.015,"v":0.0007},{"k":"k","t":-0.01475,"v":0.0002},{"k":"k","t":-0.0145,"v":0.0010},{"k":"k","t":-0.01425,"v":0.0003},{"k":"k","t":-0.014,"v":0.0009},{"k":"k","t":-0.01375,"v":0.0002},{"k":"k","t":-0.0135,"v":0.0011},{"k":"k","t":-0.01325,"v":0.0004},{"k":"k","t":-0.013,"v":0.0009},{"k":"k","t":-0.01275,"v":0.0001},{"k":"k","t":-0.0125,"v":0.0008},{"k":"k","t":-0.01225,"v":0.0002},{"k":"k","t":-0.012,"v":0.0010},{"k":"k","t":-0.01175,"v":0.0003},{"k":"k","t":-0.0115,"v":0.0006},{"k":"k","t":-0.01125,"v":-0.0002},{"k":"k","t":-0.011,"v":0.0004},{"k":"k","t":-0.01075,"v":-0.0004},{"k":"k","t":-0.0105,"v":0.0003},{"k":"k","t":-0.01025,"v":-0.0005},{"k":"k","t":-0.01,"v":0.0000},{"k":"k","t":-0.00975,"v":-0.0009},{"k":"k","t":-0.0095,"v":-0.0002},{"k":"k","t":-0.00925,"v":-0.0010},{"k":"k","t":-0.009,"v":-0.0003},{"k":"k","t":-0.00875,"v":-0.0008},{"k":"k","t":-0.0085,"v":0.0000},{"k":"k","t":-0.00825,"v":-0.0009},{"k":"k","t":-0.008,"v":-0.0002},{"k":"k","t":-0.00775,"v":-0.0008},{"k":"k","t":-0.0075,"v":0.0000},{"k":"k","t":-0.00725,"v":-0.0007},{"k":"k","t":-0.007,"v":0.0001},{"k":"k","t":-0.00675,"v":-0.0008},{"k":"k","t":-0.0065,"v":-0.0001},{"k":"k","t":-0.00625,"v":-0.0006},{"k":"k","t":-0.006,"v":0.0006},{"k":"k","t":-0.00575,"v":0.0012},{"k":"k","t":-0.0055,"v":0.0008},{"k":"k","t":-0.00525,"v":0.0016},{"k":"k","t":-0.005,"v":0.0022},{"k":"k","t":-0.00475,"v":0.0028},{"k":"k","t":-0.0045,"v":0.0020},{"k":"k","t":-0.00425,"v":0.0015},{"k":"k","t":-0.004,"v":0.0004},{"k":"k","t":-0.00375,"v":-0.0004},{"k":"k","t":-0.0035,"v":0.0002},{"k":"k","t":-0.00325,"v":-0.0008},{"k":"k","t":-0.003,"v":0.0003},{"k":"k","t":-0.00275,"v":0.0012},{"k":"k","t":-0.0025,"v":0.0018},{"k":"k","t":-0.00225,"v":0.0010},{"k":"k","t":-0.002,"v":0.0015},{"k":"k","t":-0.00175,"v":0.0002},{"k":"k","t":-0.0015,"v":-0.0006},{"k":"k","t":-0.00125,"v":0.0001},{"k":"k","t":-0.001,"v":-0.0008},{"k":"k","t":-0.00075,"v":0.0000},{"k":"k","t":-0.0005,"v":-0.0007},{"k":"k","t":-0.00025,"v":0.0001},{"k":"k","t":0.0,"v":-0.0006},
{"k":"k","t":-0.029875,"v":-0.0010},{"k":"k","t":-0.029375,"v":0.0008},{"k":"k","t":-0.028875,"v":-0.0012},{"k":"k","t":-0.028375,"v":0.0004},{"k":"k","t":-0.027875,"v":-0.0016},{"k":"k","t":-0.027375,"v":-0.0002},{"k":"k","t":-0.026875,"v":-0.0016},{"k":"k","t":-0.026375,"v":0.0000},{"k":"k","t":-0.025875,"v":-0.0018},{"k":"k","t":-0.025375,"v":0.0000},{"k":"k","t":-0.024875,"v":-0.0016},{"k":"k","t":-0.024375,"v":-0.0020},{"k":"k","t":-0.023875,"v":-0.0004},{"k":"k","t":-0.023375,"v":-0.0016},{"k":"k","t":-0.022875,"v":0.0000},{"k":"k","t":-0.022375,"v":-0.0012},{"k":"k","t":-0.021875,"v":0.0002},{"k":"k","t":-0.021375,"v":-0.0010},{"k":"k","t":-0.020875,"v":0.0006},{"k":"k","t":-0.020375,"v":-0.0002},{"k":"k","t":-0.019875,"v":0.0016},{"k":"k","t":-0.019375,"v":-0.0002},{"k":"k","t":-0.018875,"v":0.0012},{"k":"k","t":-0.018375,"v":-0.0016},{"k":"k","t":-0.017875,"v":0.0000},{"k":"k","t":-0.017375,"v":-0.0008},{"k":"k","t":-0.016875,"v":0.0012},{"k":"k","t":-0.016375,"v":-0.0004},{"k":"k","t":-0.015875,"v":0.0010},{"k":"k","t":-0.015375,"v":-0.0006},{"k":"k","t":-0.014875,"v":0.0012},{"k":"k","t":-0.014375,"v":-0.0002},{"k":"k","t":-0.013875,"v":0.0014},{"k":"k","t":-0.013375,"v":-0.0001},{"k":"k","t":-0.012875,"v":0.0014},{"k":"k","t":-0.012375,"v":-0.0002},{"k":"k","t":-0.011875,"v":0.0013},{"k":"k","t":-0.011375,"v":-0.0006},{"k":"k","t":-0.010875,"v":0.0008},{"k":"k","t":-0.010375,"v":-0.0009},{"k":"k","t":-0.009875,"v":0.0004},{"k":"k","t":-0.009375,"v":-0.0014},{"k":"k","t":-0.008875,"v":0.0003},{"k":"k","t":-0.008375,"v":-0.0013},{"k":"k","t":-0.007875,"v":0.0004},{"k":"k","t":-0.007375,"v":-0.0012},{"k":"k","t":-0.006875,"v":0.0005},{"k":"k","t":-0.006375,"v":-0.0011},{"k":"k","t":-0.005875,"v":0.0016},{"k":"k","t":-0.005375,"v":0.0004},{"k":"k","t":-0.004875,"v":0.0030},{"k":"k","t":-0.004375,"v":0.0010},{"k":"k","t":-0.003875,"v":0.0000},{"k":"k","t":-0.003375,"v":-0.0012},{"k":"k","t":-0.002875,"v":0.0008},{"k":"k","t":-0.002375,"v":0.0022},{"k":"k","t":-0.001875,"v":0.0006},{"k":"k","t":-0.001375,"v":-0.0010},{"k":"k","t":-0.000875,"v":0.0004},{"k":"k","t":-0.000375,"v":-0.0011}
]},
"layer":[
{"mark":{"type":"line","strokeWidth":0.8,"clip":true},
 "encoding":{
  "x":{"field":"t","type":"quantitative","scale":{"domain":[-0.03,0],"nice":false,"zero":false},"axis":{"orient":"bottom","title":"Time_s","values":[-0.03,-0.025,-0.02,-0.015,-0.01,-0.005,0],"labelExpr":"datum.value + ''","tickSize":-8,"labelPadding":10,"titlePadding":4,"labelFlush":false}},
  "y":{"field":"v","type":"quantitative","scale":{"domain":[-0.02,0.02],"nice":false,"zero":false},"axis":{"orient":"left","title":"Voltage","values":[-0.02,-0.015,-0.01,-0.005,0,0.005,0.01,0.015,0.02],"labelExpr":"datum.value + ''","tickSize":-8,"labelPadding":10,"titlePadding":6,"labelFlush":false}},
  "color":{"field":"k","type":"nominal","scale":{"domain":["a","b","c","d","e","f","g","h","i","j","k"],"range":["#000000","#ff0000","#00ff00","#0000ff","#00ffff","#ff00ff","#008000","#8b2be2","#9a3a10","#000000","#ff0000"]}}
 }},
{"mark":{"type":"point","filled":true,"size":55,"opacity":1,"clip":true},
 "encoding":{
  "x":{"field":"t","type":"quantitative","axis":{"orient":"top","title":null,"labels":false,"values":[-0.03,-0.025,-0.02,-0.015,-0.01,-0.005,0],"tickSize":-8}},
  "y":{"field":"v","type":"quantitative","axis":{"orient":"right","title":null,"labels":false,"values":[-0.02,-0.015,-0.01,-0.005,0,0.005,0.01,0.015,0.02],"tickSize":-8}},
  "color":{"field":"k","type":"nominal","scale":{"domain":["a","b","c","d","e","f","g","h","i","j","k"],"range":["#000000","#ff0000","#00ff00","#0000ff","#00ffff","#ff00ff","#008000","#8b2be2","#9a3a10","#000000","#ff0000"]},
   "legend":{"title":null,"orient":"none","legendX":8,"legendY":5,"fillColor":"white","strokeColor":"#8a8a8a","padding":6,"labelFont":"DejaVu Sans","labelFontSize":19,"labelLimit":400,"labelColor":"#000000","rowPadding":3.2,"symbolSize":45,"labelOffset":8,"labelExpr":"{'a':'Z1750 (z= -550, ch44)','b':'Z1800 (z= -500, ch45)','c':'Z1850 (z= -450, ch46)','d':'Z1900 (z= -400, ch47)','e':'Z1950 (z= -350, ch48)','f':'Z2000 (z= -300, ch49)','g':'Z2050 (z= -250, ch50)','h':'Z2100 (z= -200, ch51)','i':'Z2150 (z= -150, ch52)','j':'Z2200 (z= -100, ch53)','k':'Z2250 (z= -50, ch54)'}[datum.value]"}},
  "shape":{"field":"k","type":"nominal","scale":{"domain":["a","b","c","d","e","f","g","h","i","j","k"],"range":["circle","square","diamond","square","triangle-up","triangle-right","M0,-1L0.225,-0.309L0.951,-0.309L0.363,0.118L0.588,0.809L0,0.382L-0.588,0.809L-0.363,0.118L-0.951,-0.309L-0.225,-0.309Z","triangle-left","triangle-down","cross","circle"]}}
 }}
],
"resolve":{"axis":{"x":"independent","y":"independent"}}
}
